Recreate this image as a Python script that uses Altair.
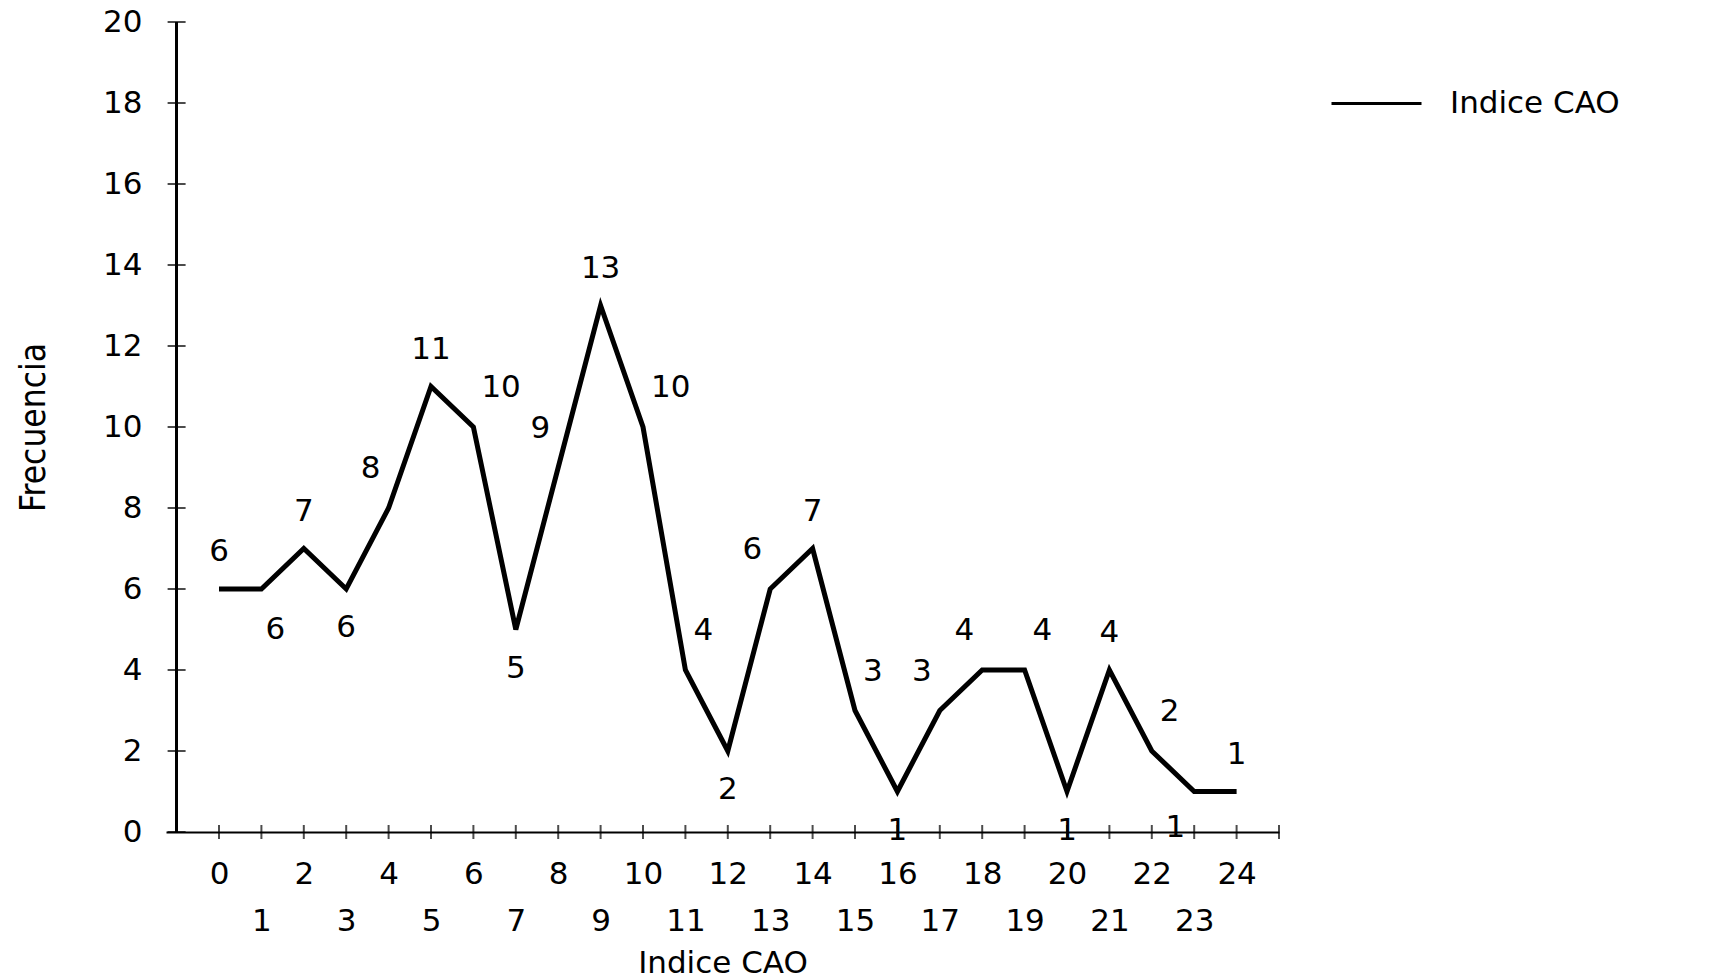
import altair as alt
import pandas as pd

# ---- data ----
cao = list(range(25))
frecuencia = [6, 6, 7, 6, 8, 11, 10, 5, 9, 13, 10, 4, 2, 6, 7, 3, 1, 3, 4, 4, 1, 4, 2, 1, 1]
placement = ["above", "below_right", "above", "below", "above_left", "above", "above_right",
             "below", "above_left", "above", "above_right", "above_right", "below", "above_left",
             "above", "above_right", "below", "above_left", "above_left", "above_right", "below",
             "above", "above_right", "below_left", "above"]
y_ticks = list(range(0, 21, 2))
x_ticks = list(range(0, 26))
x_labels = list(range(0, 25))
series_name = "Indice CAO"

df = pd.DataFrame({"cao": cao, "freq": frecuencia, "place": placement, "serie": series_name})
df_yt = pd.DataFrame({"v": y_ticks})
df_xt = pd.DataFrame({"v": x_ticks})

FONT = "DejaVu Sans"
FS = 31

xscale = alt.Scale(domain=[-1.25, 25], nice=False, zero=False)
yscale = alt.Scale(domain=[0, 20], nice=False)

x_axis = alt.Axis(
    values=x_labels, grid=False, ticks=False, domain=True, domainColor="black", domainWidth=2,
    labelExpr="datum.value % 2 == 0 ? datum.label : ['', datum.label]",
    labelBaseline="top", labelLineHeight=47, labelPadding=27, labelFont=FONT, labelFontSize=FS,
    labelColor="black", labelFlush=False, labelOverlap=False,
    title="Indice CAO", titleFont=FONT, titleFontSize=FS, titleFontWeight="normal",
    titleColor="black", titleY=131, titleBaseline="middle",
)
y_axis = alt.Axis(
    values=y_ticks, grid=False, ticks=False, domain=False, labelPadding=24,
    labelFont=FONT, labelFontSize=FS, labelColor="black",
    title="Frecuencia", titleFont="DejaVu Sans Condensed, Liberation Sans", titleFontSize=35,
    titleFontWeight="normal", titleColor="black", titleX=-133, titleY=405,
    titleBaseline="middle", titleAlign="center",
)

base = alt.Chart(df)

line = base.mark_line(strokeWidth=5, strokeJoin="miter").encode(
    x=alt.X("cao:Q", scale=xscale, axis=x_axis),
    y=alt.Y("freq:Q", scale=yscale, axis=y_axis),
    color=alt.Color("serie:N", scale=alt.Scale(range=["black"]),
                    legend=alt.Legend(orient="none", legendX=1164, legendY=35, title=None,
                                      symbolType="stroke", symbolSize=8100, symbolStrokeWidth=3,
                                      symbolStrokeColor="black", labelFont=FONT, labelFontSize=FS,
                                      labelColor="black", labelOffset=27, labelLimit=600)),
)

yrule = alt.Chart(df_yt).mark_rule(color="black", strokeWidth=2).encode(
    x=alt.X(datum=-1, scale=xscale),
    y=alt.Y(datum=0, scale=yscale),
    y2=alt.Y2(datum=20),
)
yticks_m = alt.Chart(df_yt).mark_tick(orient="horizontal", size=18, thickness=2, color="black").encode(
    x=alt.X(datum=-1, scale=xscale),
    y=alt.Y("v:Q", scale=yscale),
)
xticks_m = alt.Chart(df_xt).mark_tick(orient="vertical", size=14, thickness=2, color="black").encode(
    x=alt.X("v:Q", scale=xscale),
    y=alt.Y(datum=0, scale=yscale),
)

styles = {
    "above": dict(align="center", dx=0, dy=-37),
    "below": dict(align="center", dx=0, dy=39),
    "above_left": dict(align="right", dx=-8, dy=-39),
    "above_right": dict(align="left", dx=8, dy=-39),
    "below_right": dict(align="left", dx=4, dy=41),
    "below_left": dict(align="right", dx=-9, dy=36),
}
text_layers = []
for key, st in styles.items():
    text_layers.append(
        base.transform_filter(alt.datum.place == key).mark_text(
            font=FONT, fontSize=FS, color="black", baseline="middle", **st
        ).encode(
            x=alt.X("cao:Q", scale=xscale),
            y=alt.Y("freq:Q", scale=yscale),
            text=alt.Text("freq:Q"),
        )
    )

chart = alt.layer(line, yrule, yticks_m, xticks_m, *text_layers).properties(
    width=1113, height=810,
    padding={"left": 166, "top": 22, "right": 437, "bottom": 148},
    autosize=alt.AutoSizeParams(type="none"),
    background="white",
).configure_view(strokeWidth=0)

chart.save("out.html", embed_options={"renderer": "svg", "actions": False})
